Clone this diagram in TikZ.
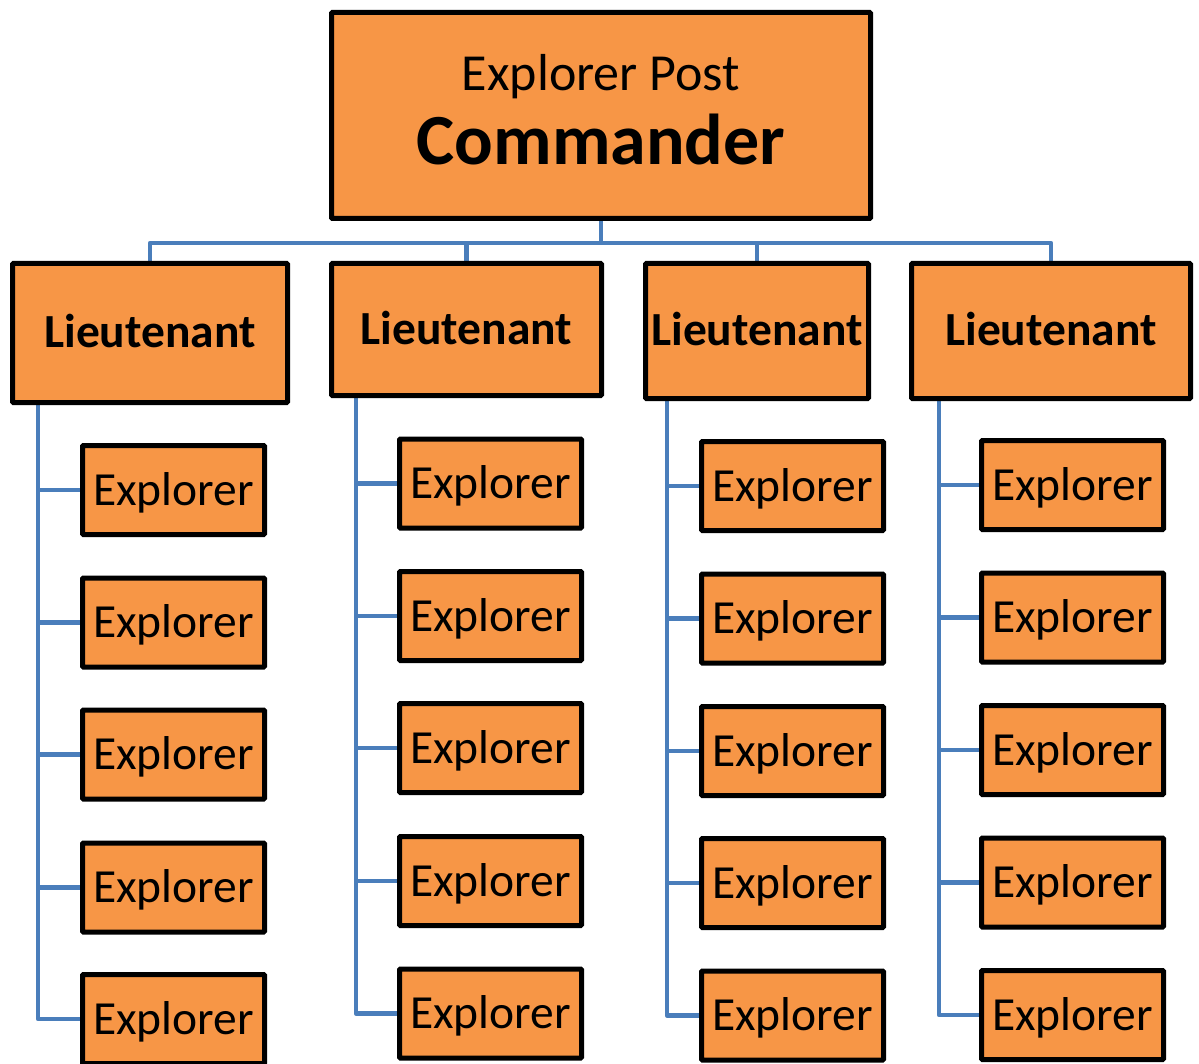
\documentclass[tikz,border=0pt]{standalone}
\usepackage{fontspec}
\setmainfont{Carlito}
\usetikzlibrary{backgrounds}
\definecolor{boxorange}{HTML}{F79646}
\definecolor{connblue}{HTML}{4A7EBB}
\tikzset{
  box/.style={draw=black, fill=boxorange, line width=5pt, rounded corners=1pt, inner sep=0pt, text depth=0pt},
  ltbox/.style={box, font=\fontsize{47.5}{50}\selectfont\bfseries, text height=30pt},
  exbox/.style={box, minimum width=182pt, minimum height=89pt, font=\fontsize{47.5}{50}\selectfont, text height=30pt},
  conn/.style={draw=connblue, line width=4.5pt, line join=round},
  plain/.style={inner sep=0pt, anchor=base}
}
\begin{document}
\begin{tikzpicture}[x=1pt, y=-1pt]
\useasboundingbox (0,0) rectangle (1199,1064);
% commander
\node[box, minimum width=539pt, minimum height=206pt] (cmd) at (601,115.5) {};
\node[plain, font=\fontsize{52}{60}\selectfont] (cmdt1) at (601,91) {Explorer Post};
\node[plain, font=\fontsize{72}{80}\selectfont\bfseries] (cmdt2) at (601,165) {Commander};
% lieutenants
\node[ltbox, minimum width=275pt, minimum height=139pt] (L1) at (150,333) {Lieutenant};
\node[ltbox, minimum width=270pt, minimum height=132pt] (L2) at (466.5,329.5) {Lieutenant};
\node[ltbox, minimum width=223pt, minimum height=135pt] (L3) at (757,331) {Lieutenant};
\node[ltbox, minimum width=279pt, minimum height=135pt] (L4) at (1051,331) {Lieutenant};
% explorers
\foreach \c/\cx/\ys in {1/173.5/{490,622.5,754.5,887.5,1019},
                        2/490.5/{483.5,616,748,881,1013.5},
                        3/792.5/{486,618.5,751,883,1015.5},
                        4/1072.5/{485,617.5,750,882.5,1015}}{
  \foreach \y [count=\r] in \ys {
    \node[exbox] (E\c\r) at (\cx,\y) {Explorer};
  }
}
% spine coordinates
\coordinate (s1) at (38,0);
\coordinate (s2) at (356,0);
\coordinate (s3) at (667,0);
\coordinate (s4) at (939,0);
\begin{scope}[on background layer]
  \foreach \k in {1,2,3,4}{
    \draw[conn] (cmd.south) -- ++(0,22) -| (L\k.north);
    \foreach \r in {1,...,5}{
      \draw[conn] (L\k.south -| s\k) |- (E\k\r.west);
    }
  }
\end{scope}
\end{tikzpicture}
\end{document}
